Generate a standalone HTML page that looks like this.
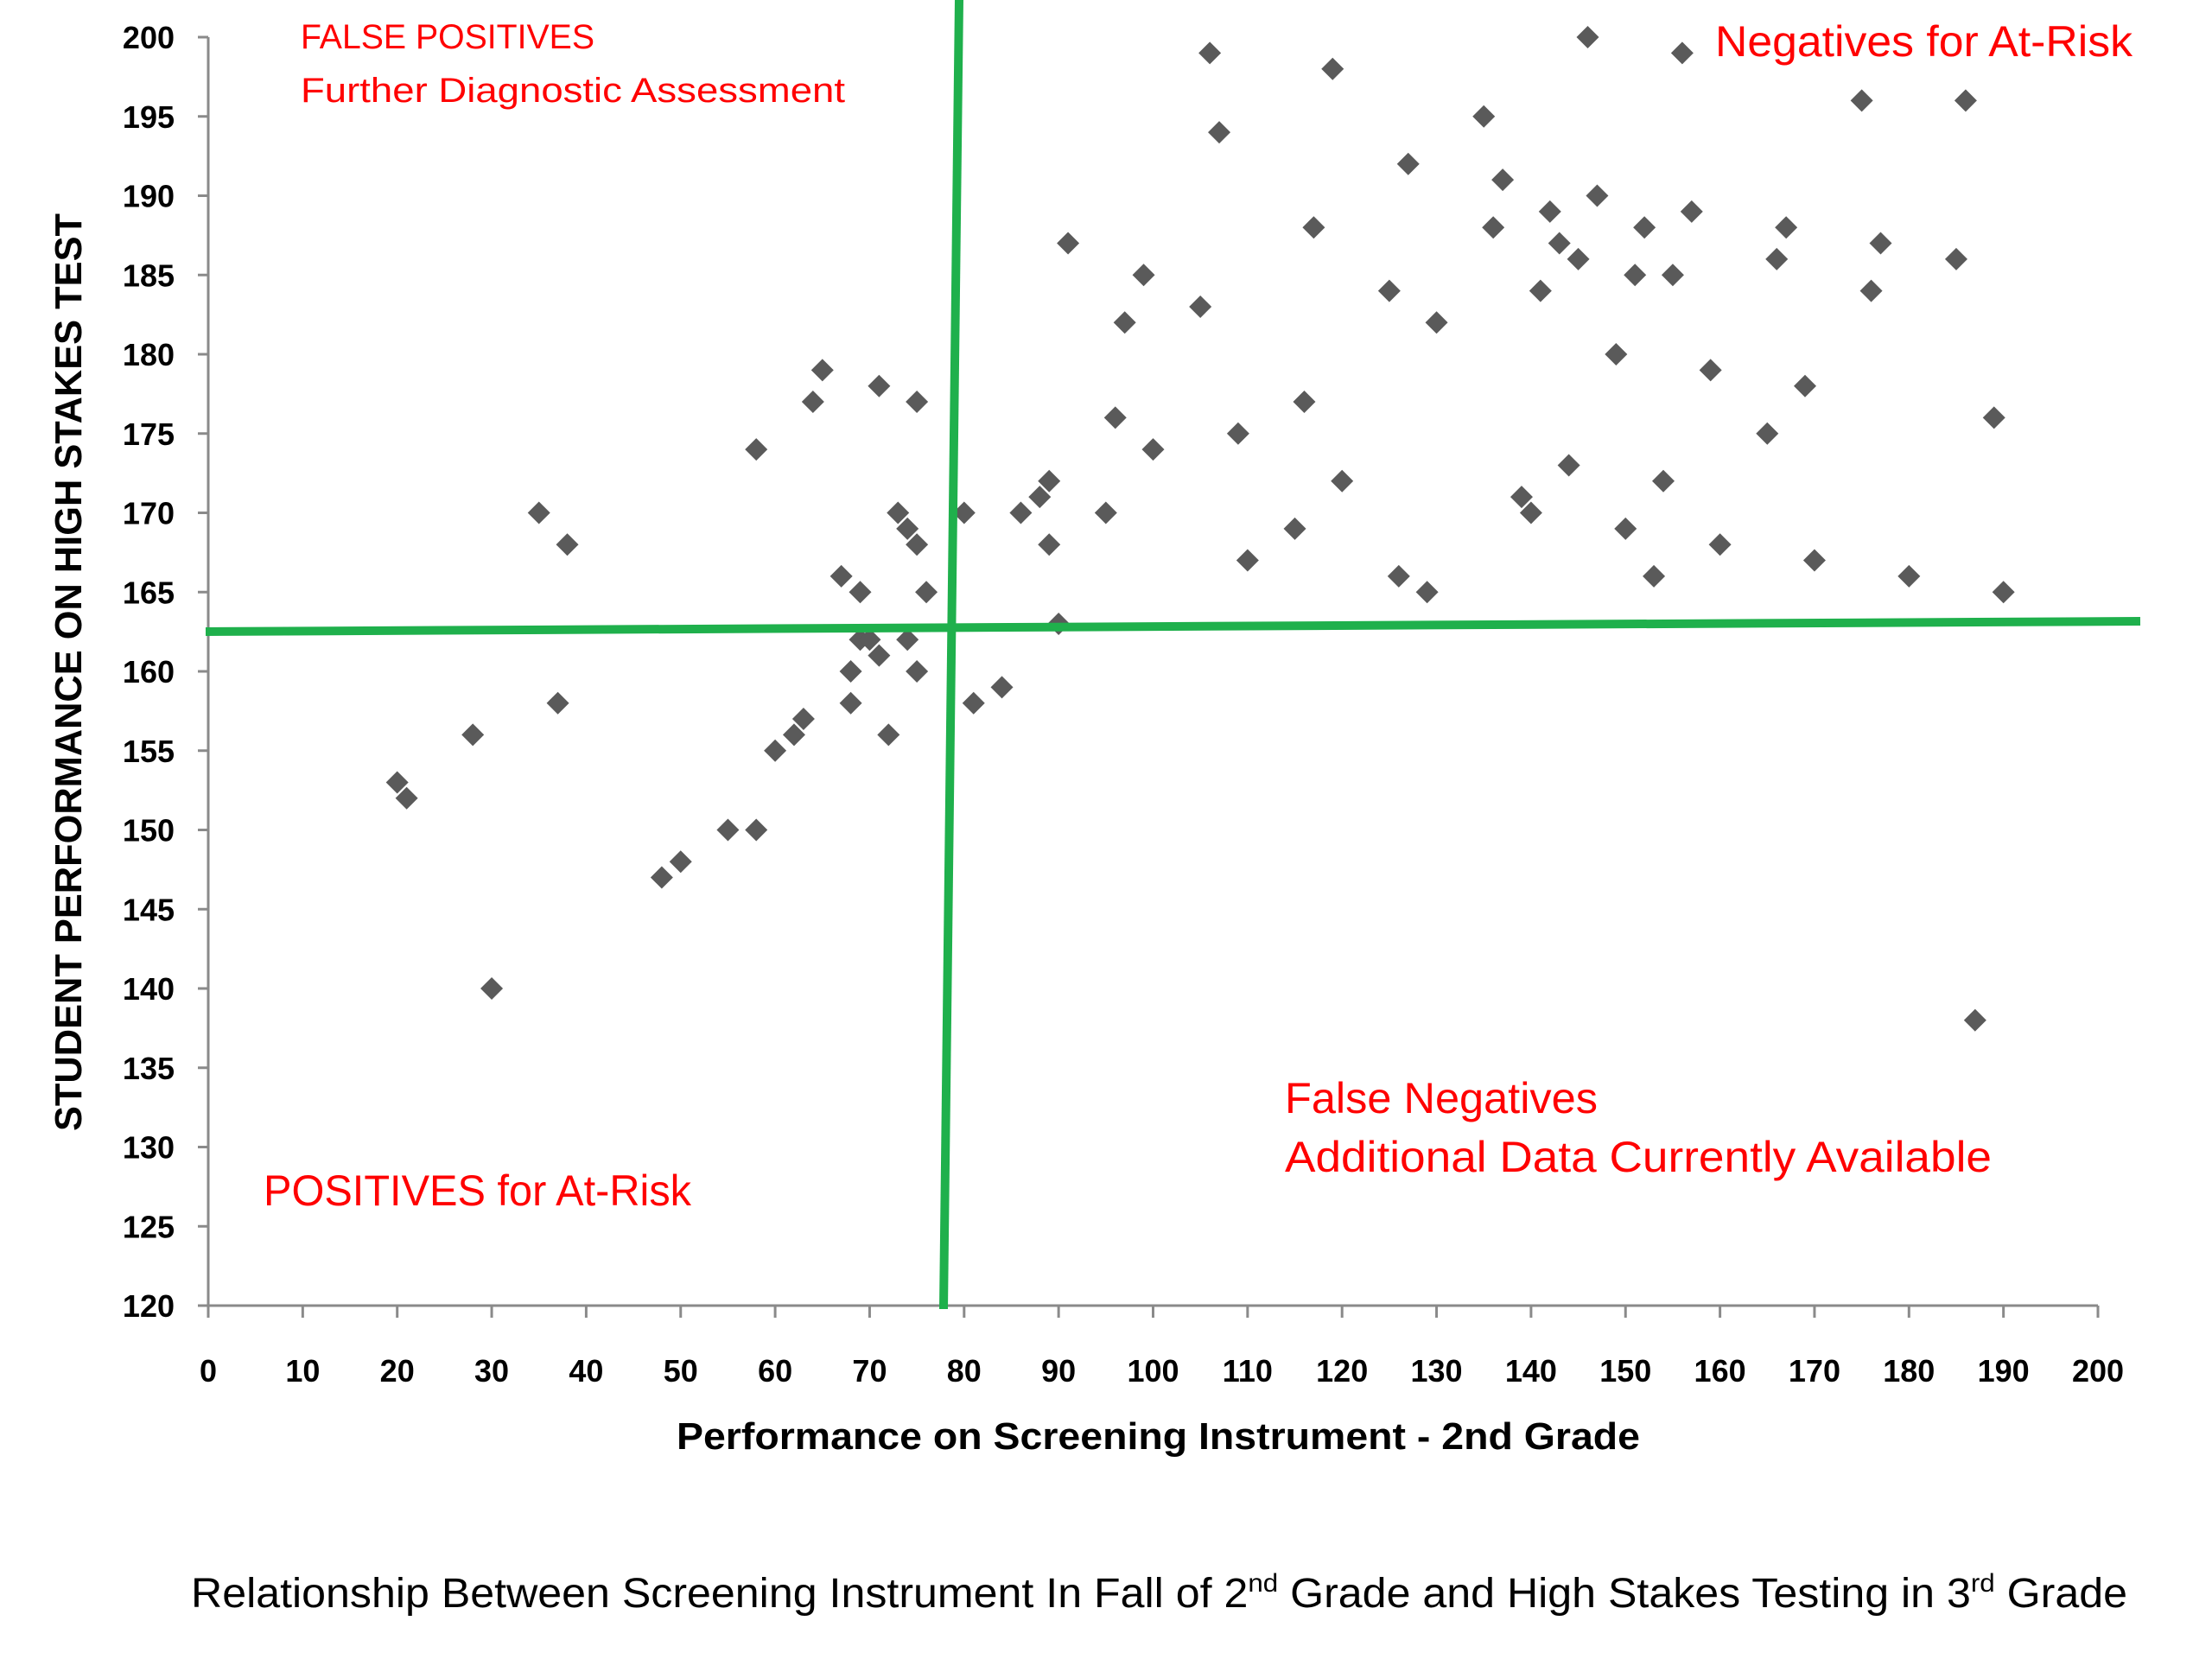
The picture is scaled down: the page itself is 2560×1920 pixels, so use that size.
<!DOCTYPE html>
<html><head><meta charset="utf-8"><style>
html,body{margin:0;padding:0;background:#fff;}
svg{display:block;}
text{font-family:"Liberation Sans",sans-serif;}
</style></head><body>
<svg id="chart" width="2560" height="1920" viewBox="0 0 2560 1920" xmlns="http://www.w3.org/2000/svg">
<g id="axes"></g>
<g id="points"></g>
<g id="quad"></g>
<g fill="#ff0000">
<text x="348" y="56" font-size="40" textLength="340" lengthAdjust="spacingAndGlyphs">FALSE POSITIVES</text>
<text x="348" y="118" font-size="40" textLength="630" lengthAdjust="spacingAndGlyphs">Further Diagnostic Assessment</text>
<text x="1985" y="65" font-size="50" textLength="483" lengthAdjust="spacingAndGlyphs">Negatives for At-Risk</text>
<text x="1487" y="1288" font-size="50" textLength="362" lengthAdjust="spacingAndGlyphs">False Negatives</text>
<text x="1487" y="1356" font-size="50" textLength="818" lengthAdjust="spacingAndGlyphs">Additional Data Currently Available</text>
<text x="305" y="1395" font-size="50" textLength="495" lengthAdjust="spacingAndGlyphs">POSITIVES for At-Risk</text>
</g>
<text x="783" y="1677" font-size="44" font-weight="bold" textLength="1115" lengthAdjust="spacingAndGlyphs">Performance on Screening Instrument - 2nd Grade</text>
<text transform="translate(94,778) rotate(-90)" text-anchor="middle" font-size="44" font-weight="bold" textLength="1062" lengthAdjust="spacingAndGlyphs">STUDENT PERFORMANCE ON HIGH STAKES TEST</text>
<text x="221" y="1860" font-size="48" textLength="2241" lengthAdjust="spacingAndGlyphs">Relationship Between Screening Instrument In Fall of 2<tspan font-size="30" dy="-18">nd</tspan><tspan dy="18"> Grade and High Stakes Testing in 3</tspan><tspan font-size="30" dy="-18">rd</tspan><tspan dy="18"> Grade</tspan></text>
</svg>
<script>
const xVals=[20,21,28,30,35,37,38,48,50,55,58,58,60,62,63,64,65,67,68,68,69,69,70,71,71,72,73,74,74,75,75,75,76,80,81,84,86,88,89,89,90,91,95,96,97,99,100,105,106,107,109,110,115,116,117,119,120,125,126,127,129,130,135,136,137,139,140,141,142,143,144,145,146,147,149,150,151,152,153,154,155,156,157,159,160,165,166,167,169,170,175,176,177,180,185,186,187,189,190];
const yVals=[153,152,156,140,170,158,168,147,148,150,150,174,155,156,157,177,179,166,160,158,165,162,162,161,178,156,170,169,162,168,160,177,165,170,158,159,170,171,172,168,163,187,170,176,182,185,174,183,199,194,175,167,169,177,188,198,172,184,166,192,165,182,195,188,191,171,170,184,189,187,173,186,200,190,180,169,185,188,166,172,185,199,189,179,168,175,186,188,178,167,196,184,187,166,186,196,138,176,165];
const xTicks=[0,10,20,30,40,50,60,70,80,90,100,110,120,130,140,150,160,170,180,190,200];
const yTicks=[120,125,130,135,140,145,150,155,160,165,170,175,180,185,190,195,200];
const NS="http://www.w3.org/2000/svg";
const X0=241,X1=2428,Y0=1511,Y1=43;
function sx(v){return X0+(v-0)/200*(X1-X0);}
function sy(v){return Y0-(v-120)/80*(Y0-Y1);}
function mk(tag,attrs,parent){const e=document.createElementNS(NS,tag);for(const k in attrs)e.setAttribute(k,attrs[k]);parent.appendChild(e);return e;}
const axes=document.getElementById('axes');
let l=mk('line',{x1:X0,y1:Y1,x2:X0,y2:Y0,stroke:'#8a8a8a','stroke-width':3},axes);


l=mk('line',{x1:X0,y1:Y0,x2:X1,y2:Y0,stroke:'#8a8a8a','stroke-width':3},axes);


yTicks.forEach(t=>{
 const tk=mk('line',{x1:X0-12,y1:sy(t),x2:X0,y2:sy(t),stroke:'#8a8a8a','stroke-width':3},axes);
 
 
 const tx=mk('text',{x:202,y:sy(t)+13,'text-anchor':'end','font-size':36,'font-weight':'bold'},axes);
 tx.textContent=t;
 
 
});
xTicks.forEach(t=>{
 const tk=mk('line',{x1:sx(t),y1:Y0,x2:sx(t),y2:Y0+14,stroke:'#8a8a8a','stroke-width':3},axes);
 
 
 const tx=mk('text',{x:sx(t),y:1599,'text-anchor':'middle','font-size':36,'font-weight':'bold'},axes);
 tx.textContent=t;
 
 
});
const pts=document.getElementById('points');
xVals.forEach((xv,i)=>{
 const cx=sx(xv),cy=sy(yVals[i]),r=13;
 const p=mk('polygon',{points:`${cx},${cy-r} ${cx+r},${cy} ${cx},${cy+r} ${cx-r},${cy}`,fill:'#5a5a5a'},pts);
 
 
});
const q=document.getElementById('quad');
l=mk('line',{x1:1110,y1:0,x2:1092,y2:1515,stroke:'#1fb04c','stroke-width':10},q);


l=mk('line',{x1:238,y1:731,x2:2477,y2:719,stroke:'#1fb04c','stroke-width':10},q);


</script>
</body></html>
